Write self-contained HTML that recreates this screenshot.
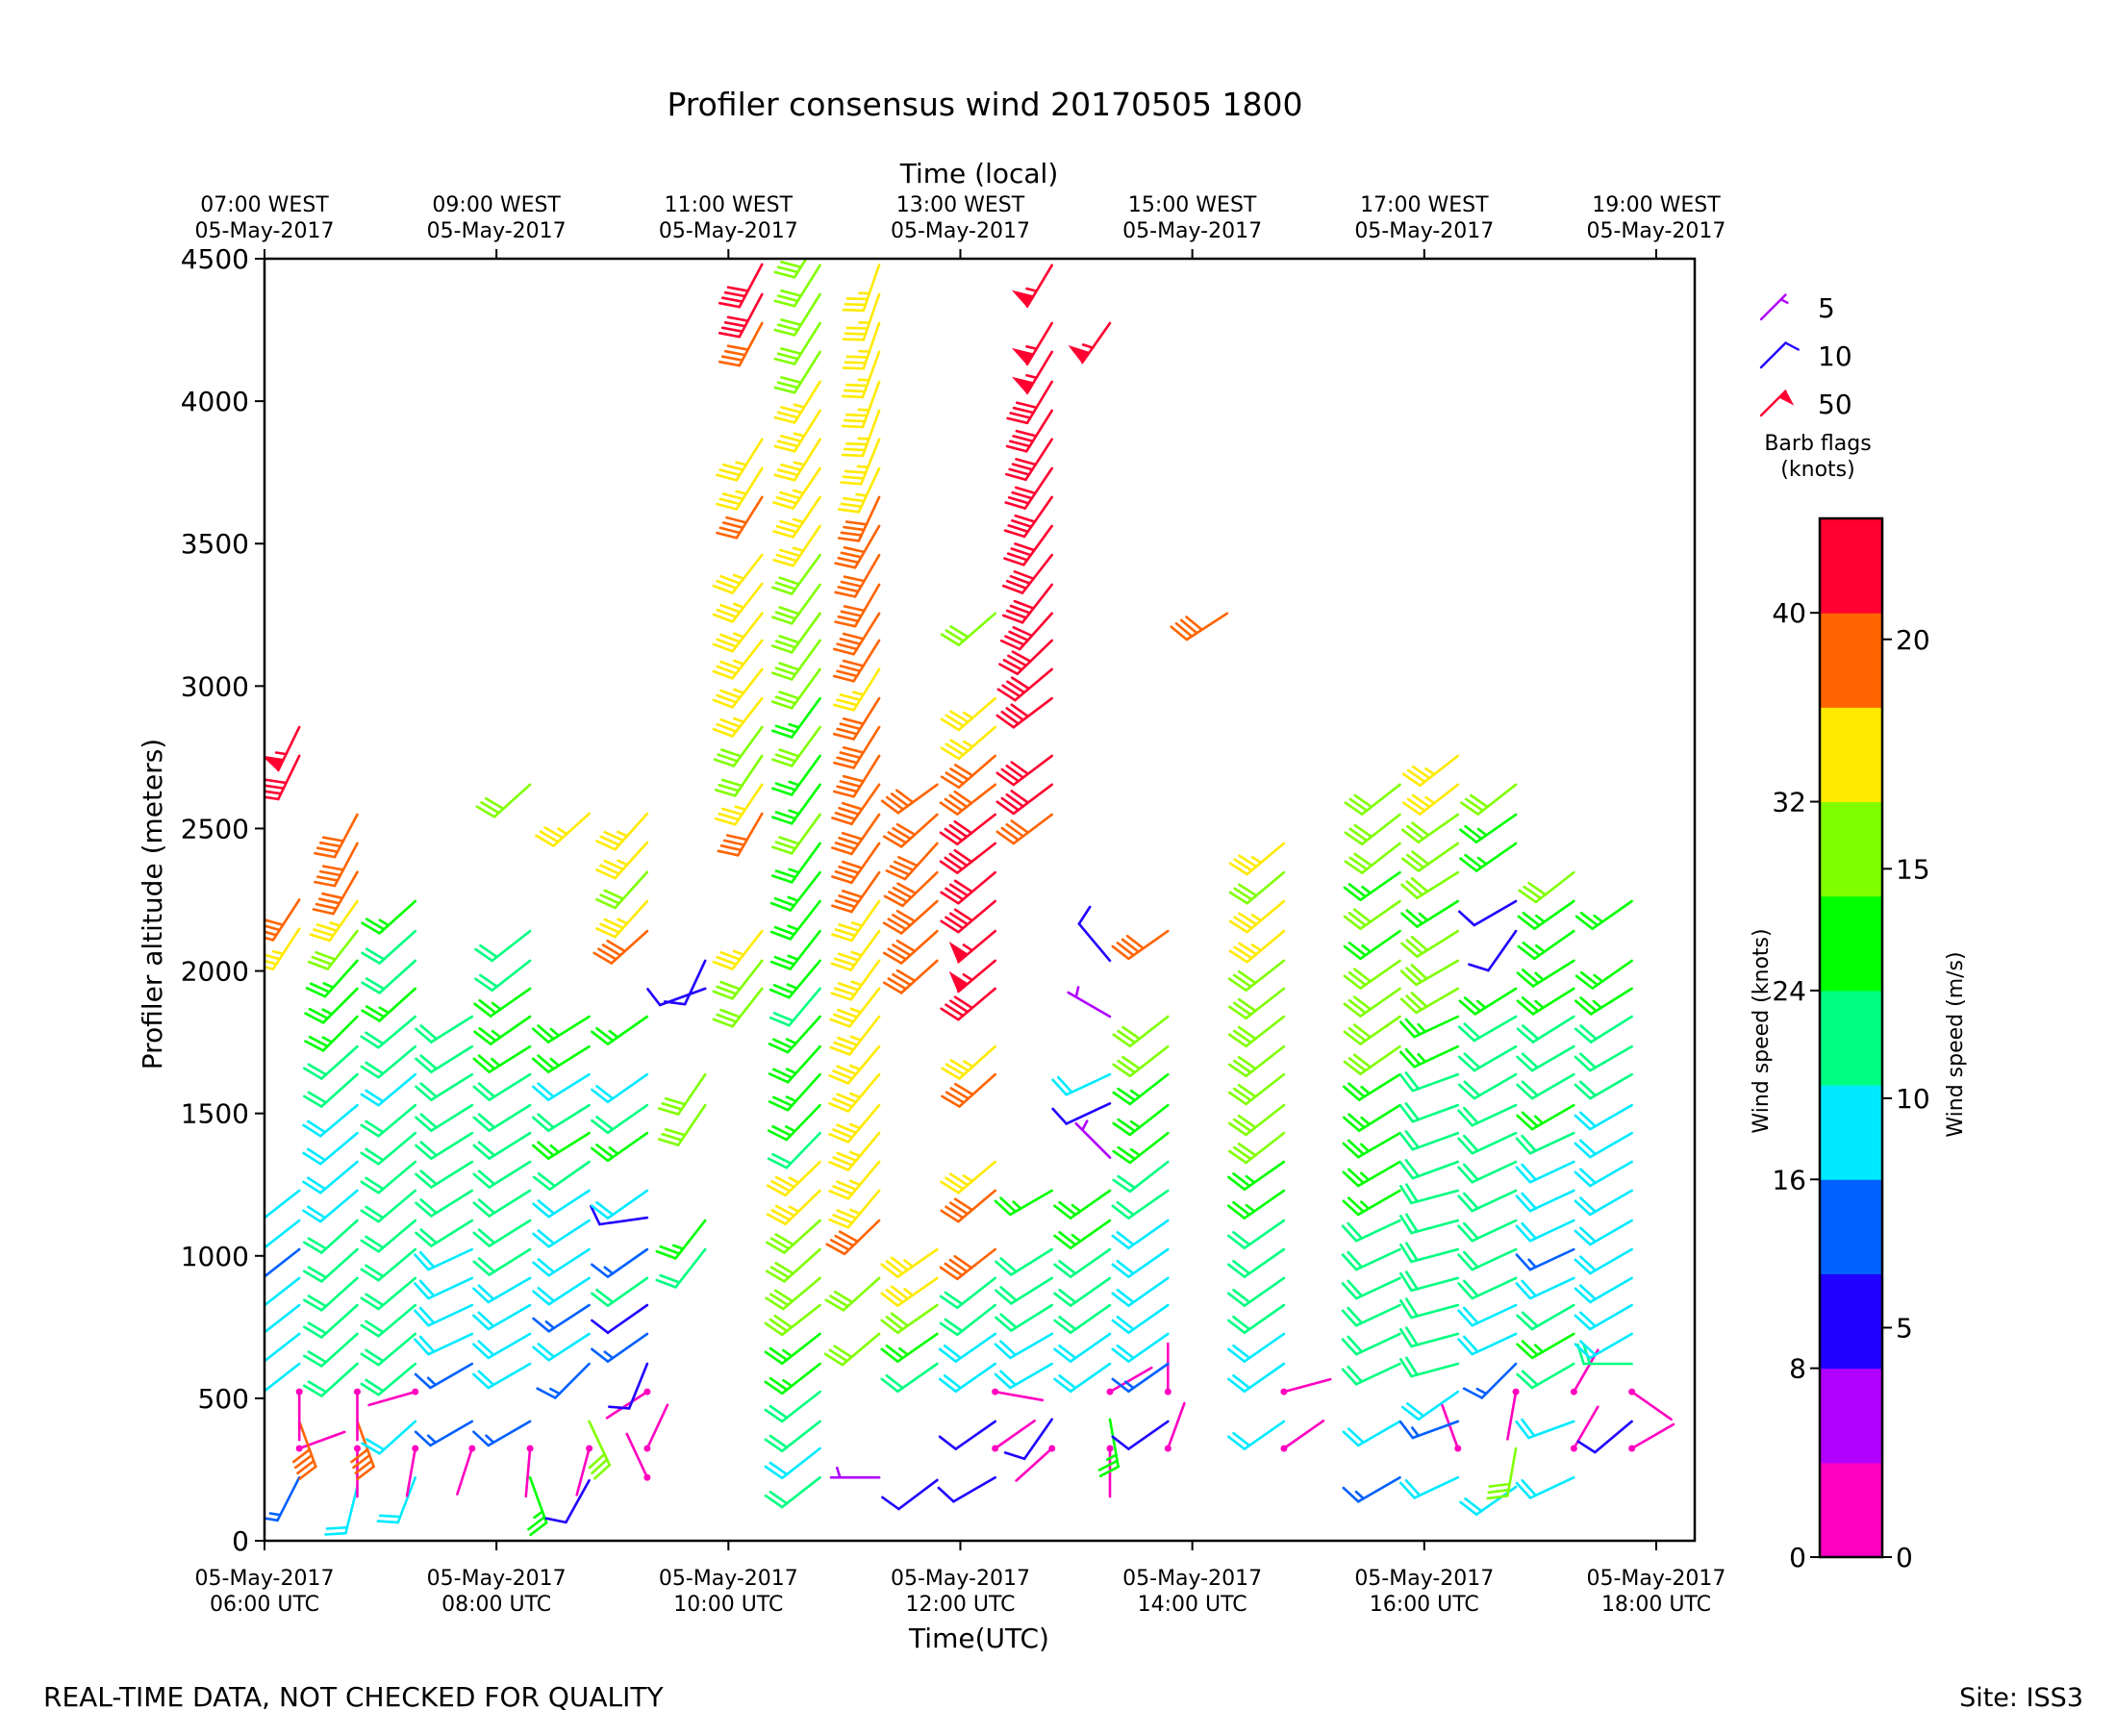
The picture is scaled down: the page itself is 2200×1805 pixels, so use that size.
<!DOCTYPE html>
<html><head><meta charset="utf-8"><style>
body{margin:0;background:#fff}
svg text{font-family:"DejaVu Sans","Liberation Sans",sans-serif;fill:#000}
</style></head><body>
<svg id="chart" width="2200" height="1800" viewBox="0 0 2200 1800" xmlns="http://www.w3.org/2000/svg">
<rect width="2200" height="1800" fill="#fff"/>
<defs><clipPath id="plotclip"><rect x="275" y="269" width="1487" height="1333"/></clipPath></defs>
<text x="1024" y="120" font-size="33" text-anchor="middle">Profiler consensus wind 20170505 1800</text>
<text x="1018" y="190" font-size="28" text-anchor="middle">Time (local)</text>
<text x="1018" y="1713" font-size="28" text-anchor="middle">Time(UTC)</text>
<text transform="translate(168,940) rotate(-90)" font-size="28" text-anchor="middle">Profiler altitude (meters)</text>
<text x="45" y="1774" font-size="28">REAL-TIME DATA, NOT CHECKED FOR QUALITY</text>
<text x="2166" y="1774" font-size="27" text-anchor="end">Site: ISS3</text>
<g id="axes"></g>
<g id="barbs" clip-path="url(#plotclip)"></g>
<rect x="275" y="269" width="1487" height="1333" fill="none" stroke="#000" stroke-width="2.5"/>
<g id="legend"></g>
<g id="cbar"></g>
<text transform="translate(1838,1072) rotate(-90)" font-size="22" text-anchor="middle">Wind speed (knots)</text>
<text transform="translate(2040,1086) rotate(-90)" font-size="22" text-anchor="middle">Wind speed (m/s)</text>
</svg>
<script>
// ---- data ----
const binColors = ["#ff00c0","#b000ff","#2000ff","#0060ff","#00eaff","#00ff80","#00ff00","#80ff00","#ffea00","#ff6400","#ff0030"];
const knotTicks = [0,8,16,24,32,40];
const msTicks = [0,5,10,15,20];
const yTicks = [0,500,1000,1500,2000,2500,3000,3500,4000,4500];
const xTickHours = [6,8,10,12,14,16,18];
const xTickUTC = ["06:00 UTC","08:00 UTC","10:00 UTC","12:00 UTC","14:00 UTC","16:00 UTC","18:00 UTC"];
const xTickLocal = ["07:00 WEST","09:00 WEST","11:00 WEST","13:00 WEST","15:00 WEST","17:00 WEST","19:00 WEST"];
const legendSpeeds = [5,10,50];
const times = [6.30,6.80,7.30,7.79,8.29,8.80,9.30,9.80,10.29,10.79,11.30,11.80,12.30,12.79,13.29,13.79,14.30,14.79,15.79,16.29,16.79,17.29,17.79];
const heights = [
[222,324,419,523,621,726,827,922,1023,1124,1229,2148,2250,2755,2856],
[190,324,419,523,621,726,827,922,1023,1124,1229,1330,1431,1529,1637,1735,1840,1938,2036,2140,2245,2347,2448,2549],
[222,324,419,523,621,726,827,922,1023,1124,1229,1330,1431,1529,1637,1735,1840,1938,2036,2140,2245],
[324,419,621,726,827,922,1023,1124,1229,1330,1431,1529,1637,1735,1840],
[222,324,419,621,726,827,922,1023,1124,1229,1330,1431,1529,1637,1735,1840,1938,2036,2140,2654],
[212,324,419,621,726,827,922,1023,1124,1229,1330,1431,1529,1637,1735,1840,2552],
[222,324,523,621,726,827,922,1023,1134,1229,1431,1529,1637,1840,2140,2245,2347,2451,2552],
[1023,1124,1529,1637,1938,2036],
[1938,2036,2140,2552,2654,2755,2856,2957,3059,3160,3255,3359,3460,3663,3764,3866,4274,4375,4480],
[222,324,419,523,621,726,827,922,1023,1124,1229,1330,1431,1529,1637,1735,1840,1938,2036,2140,2245,2346,2448,2549,2654,2755,2856,2957,3059,3160,3255,3356,3460,3562,3663,3764,3866,3967,4068,4173,4274,4375,4477,4578],
[222,726,922,1124,1229,1330,1431,1529,1637,1735,1840,1938,2036,2140,2245,2346,2448,2549,2654,2755,2856,2957,3059,3160,3255,3356,3460,3562,3663,3764,3866,3967,4068,4173,4274,4375,4478],
[213,621,726,827,922,1023,2036,2140,2245,2346,2448,2549,2654],
[222,324,419,523,621,726,827,922,1023,1229,1330,1637,1735,1938,2036,2140,2245,2346,2448,2549,2654,2755,2856,2957,3255],
[324,426,621,726,827,922,1023,1229,2549,2654,2755,2957,3059,3160,3255,3356,3460,3562,3663,3764,3866,3967,4068,4173,4274,4477],
[324,426,523,621,726,827,922,1023,1124,1229,1345,1535,1637,1840,2036,4274],
[324,419,523,621,726,827,922,1023,1124,1229,1330,1431,1529,1637,1735,1840,2140],
[3255],
[324,419,523,621,726,827,922,1023,1124,1229,1330,1431,1529,1637,1735,1840,1938,2036,2140,2245,2346,2448],
[222,419,621,726,827,922,1023,1124,1229,1330,1431,1529,1637,1735,1840,1938,2036,2140,2245,2346,2448,2549,2654],
[222,324,419,523,621,726,827,922,1023,1124,1229,1330,1431,1529,1637,1735,1840,1938,2036,2140,2245,2346,2448,2549,2654,2755],
[189,324,523,621,726,827,922,1023,1124,1229,1330,1431,1529,1637,1735,1840,1938,2140,2245,2448,2549,2654],
[222,324,419,523,621,726,827,922,1023,1124,1229,1330,1431,1529,1637,1735,1840,1938,2036,2140,2245,2346],
[324,419,523,621,726,827,922,1023,1124,1229,1330,1431,1529,1637,1735,1840,1938,2036,2245]
];
const speeds = [
[14,2,38,2,18,18,18,18,14,18,18,34,38,42,55],
[18,2,38,2,22,22,22,22,22,22,18,18,18,18,22,22,26,26,26,30,34,38,38,38],
[18,2,18,2,22,22,22,22,22,22,22,22,22,22,18,22,22,26,22,22,26],
[2,14,14,18,18,18,18,22,22,22,22,22,22,22,22],
[26,2,14,18,18,18,18,22,22,22,22,22,22,22,26,26,26,22,22,30],
[10,2,30,14,18,14,18,18,18,18,22,26,22,18,26,26,34],
[2,2,2,10,14,10,22,14,10,18,26,22,18,26,38,34,30,34,34],
[22,26,30,30,10,10],
[30,30,34,38,34,30,30,34,34,34,34,34,34,38,34,34,38,42,42],
[22,18,22,22,26,26,30,30,30,30,34,34,22,26,26,26,26,22,26,26,26,26,26,30,26,26,30,26,30,30,30,30,30,34,34,34,34,34,34,30,30,30,30,30],
[6,30,30,38,34,34,34,34,34,34,34,34,34,34,34,38,38,38,38,38,38,38,34,38,38,38,38,38,38,34,34,34,34,34,34,34,34],
[10,22,26,30,34,34,38,38,38,38,38,38,38],
[10,2,10,2,18,18,22,22,38,38,34,38,34,42,55,55,42,42,42,42,38,38,34,34,30],
[2,10,18,18,22,22,22,26,38,42,42,42,42,42,42,42,42,42,42,42,42,42,42,55,55,55],
[2,26,2,18,18,22,22,22,26,26,6,10,18,6,10,55],
[2,10,2,14,18,18,18,18,18,22,22,26,26,26,30,30,38],
[38],
[2,18,2,18,18,22,22,22,22,26,26,30,30,30,30,30,30,30,34,34,30,34],
[14,18,22,22,22,22,22,22,26,26,26,26,26,30,30,30,30,26,30,26,30,30,30],
[18,2,14,18,22,22,22,22,22,22,22,22,22,22,22,26,26,30,30,30,26,30,30,30,34,34],
[18,30,2,14,18,18,22,22,22,22,22,22,22,22,22,22,26,10,10,26,26,30],
[18,2,18,2,22,26,22,18,14,18,18,18,22,26,22,22,22,26,26,26,26,30],
[2,10,2,22,18,18,18,18,18,18,18,18,18,22,22,22,26,26,26]
];
const dirs = [
[207,70,160,180,232,232,232,232,232,232,232,213,213,206,206],
[194,180,160,180,228,228,228,228,228,228,230,230,230,230,228,228,225,225,222,218,215,210,208,208],
[201,190,228,254,230,230,230,230,230,230,230,230,230,230,230,230,230,228,228,228,228],
[198,240,240,245,245,245,245,238,238,238,238,238,238,238,238],
[160,185,240,240,240,240,240,238,238,238,238,238,238,238,238,235,235,232,232,228],
[209,195,155,225,237,237,237,237,237,237,235,238,238,238,238,238,228],
[335,25,237,202,235,235,235,235,262,235,235,235,235,235,228,222,222,222,222],
[218,218,214,214,250,205],
[218,218,218,210,214,214,216,218,218,218,218,218,218,212,212,212,208,208,208],
[232,232,232,232,232,232,232,230,228,228,226,226,224,224,222,222,222,220,220,218,218,218,216,216,216,216,216,216,216,216,216,216,216,214,214,214,212,212,212,212,212,212,212,212],
[270,230,228,226,220,220,220,220,220,220,218,218,216,216,215,215,215,215,215,212,212,212,212,212,212,210,210,210,205,205,202,200,200,200,199,199,199],
[233,235,235,235,235,235,228,228,228,226,222,228,234],
[240,55,235,100,235,235,232,232,232,230,230,228,228,230,230,230,230,230,232,232,232,229,229,229,229],
[228,215,240,240,238,238,238,240,233,233,233,233,230,226,222,218,218,216,215,214,213,212,211,211,211,211],
[180,170,60,235,235,235,235,235,235,235,315,245,245,300,320,215],
[20,235,0,235,235,235,235,235,235,235,232,232,232,232,232,232,235],
[237],
[55,235,75,235,235,235,235,235,235,235,235,232,232,232,232,232,232,232,230,230,230,230],
[240,240,245,245,245,245,245,245,240,240,240,238,238,235,235,235,235,235,235,235,232,232,232],
[245,340,250,235,255,255,255,255,255,255,255,250,250,250,250,245,245,240,240,238,238,238,235,235,232,232],
[235,190,190,225,245,245,245,245,245,245,245,245,245,240,240,240,238,215,240,235,235,232],
[245,30,250,30,240,240,240,245,245,245,245,245,245,240,240,240,238,238,238,235,235,232],
[60,230,125,270,240,240,240,240,240,240,240,240,240,240,240,238,238,235,235]
];

// ---- scales ----
const X0=275, X1=1762, Y0=1602, Y1=269;
function xScale(t){ return X0 + (t-6)*120.58; }
function yScale(h){ return Y0 - h*0.29622; }
const CB_X=1892, CB_W=65, CB_B=1619, CB_T=539, CB_MAX=44;
function cbScale(k){ return CB_B - k/CB_MAX*(CB_B-CB_T); }
function colorFor(s){ return binColors[Math.min(binColors.length-1, Math.floor(s/4))]; }

const NS="http://www.w3.org/2000/svg";
function mk(tag, attrs, parent){ const e=document.createElementNS(NS,tag); for(const k in attrs) e.setAttribute(k,attrs[k]); parent.appendChild(e); return e; }

function drawBarb(parent, px, py, bearing, spd, L, sw){
  const r=Math.round(spd/5)*5, col=colorFor(spd);
  const th=bearing*Math.PI/180;
  const ey=[Math.sin(th),-Math.cos(th)], ex=[-ey[1],ey[0]];
  const P=(a,b)=>[px+a*ex[0]+b*ey[0], py+a*ex[1]+b*ey[1]];
  const g=document.createElementNS(NS,'g'); parent.appendChild(g);
  
  
  const sp=0.125*L, fh=0.4*L, fw=0.25*L;
  const line=(p,q)=>mk('line',{x1:p[0].toFixed(1),y1:p[1].toFixed(1),x2:q[0].toFixed(1),y2:q[1].toFixed(1),stroke:col,'stroke-width':sw,'stroke-linecap':'round'},g);
  line(P(0,0),P(0,L));
  if(r===0){ mk('circle',{cx:px,cy:py,r:3.5,fill:col},g); return; }
  let nflag=Math.floor(r/50), rem=r-nflag*50, nb=Math.floor(rem/10), half=(rem%10)>=5;
  let off=L;
  for(let i=0;i<nflag;i++){
    if(off!==L) off+=sp/2;
    const a=P(0,off), b=P(fh,off-fw/2), c=P(0,off-fw);
    mk('polygon',{points:`${a[0]},${a[1]} ${b[0]},${b[1]} ${c[0]},${c[1]}`,fill:col,stroke:col,'stroke-width':1.5},g);
    off-=fw+sp;
  }
  for(let i=0;i<nb;i++){ line(P(0,off),P(fh,off+fw/2)); off-=sp; }
  if(half){ if(off===L) off-=1.5*sp; line(P(0,off),P(fh/2,off+fw/4)); }
}

// ---- axes ----
const ax=document.getElementById('axes');
yTicks.forEach(v=>{
  const y=yScale(v);
  const t=mk('line',{x1:X0-10,y1:y,x2:X0,y2:y,stroke:'#000','stroke-width':2},ax);
  
  
  const l=mk('text',{x:X0-16,y:y+10,'font-size':28,'text-anchor':'end'},ax); l.textContent=v;
  
  
});
xTickHours.forEach((h,i)=>{
  const x=xScale(h);
  const t=mk('line',{x1:x,y1:Y0,x2:x,y2:Y0+10,stroke:'#000','stroke-width':2},ax);
  
  
  const t2=mk('line',{x1:x,y1:Y1-10,x2:x,y2:Y1,stroke:'#000','stroke-width':2},ax);
  
  
  const a=mk('text',{x:x,y:1648,'font-size':22,'text-anchor':'middle'},ax); a.textContent='05-May-2017';
  
  
  const b=mk('text',{x:x,y:1675,'font-size':22,'text-anchor':'middle'},ax); b.textContent=xTickUTC[i];
  
  
  const c=mk('text',{x:x,y:220,'font-size':22,'text-anchor':'middle'},ax); c.textContent=xTickLocal[i];
  
  
  const d=mk('text',{x:x,y:247,'font-size':22,'text-anchor':'middle'},ax); d.textContent='05-May-2017';
  
  
});

// ---- barbs ----
const bg=document.getElementById('barbs');
times.forEach((t,ci)=>{
  const col=document.createElementNS(NS,'g'); bg.appendChild(col);
  
  
  heights[ci].forEach((h,j)=>{ drawBarb(col, xScale(t), yScale(h), dirs[ci][j], speeds[ci][j], 50, 2.6); });
});

// ---- legend ----
const lg=document.getElementById('legend');
const legY=[332,382,432], legTY=[330,380,430];
legendSpeeds.forEach((s,i)=>{
  drawBarb(lg, 1831, legY[i], 45, s, 36, 2.4);
  const tx=mk('text',{x:1890,y:legTY[i],'font-size':28},lg); tx.textContent=s;
  
  
});
const lt1=mk('text',{x:1890,y:468,'font-size':22,'text-anchor':'middle'},lg); lt1.textContent='Barb flags';


const lt2=mk('text',{x:1890,y:495,'font-size':22,'text-anchor':'middle'},lg); lt2.textContent='(knots)';



// ---- colorbar ----
const cb=document.getElementById('cbar');
binColors.forEach((c,i)=>{
  const y0=cbScale((i+1)*4), y1=cbScale(i*4);
  const r=mk('rect',{x:CB_X,y:y0,width:CB_W,height:(y1-y0+0.5),fill:c},cb);
  
  
});
mk('rect',{x:CB_X,y:CB_T,width:CB_W,height:CB_B-CB_T,fill:'none',stroke:'#000','stroke-width':2.5},cb);
knotTicks.forEach(k=>{
  const y=cbScale(k);
  mk('line',{x1:CB_X-10,y1:y,x2:CB_X,y2:y,stroke:'#000','stroke-width':2},cb);
  const l=mk('text',{x:CB_X-14,y:y+10,'font-size':28,'text-anchor':'end'},cb); l.textContent=k;
  
  
});
msTicks.forEach(m=>{
  const y=cbScale(m*1.94384);
  mk('line',{x1:CB_X+CB_W,y1:y,x2:CB_X+CB_W+10,y2:y,stroke:'#000','stroke-width':2},cb);
  const l=mk('text',{x:CB_X+CB_W+14,y:y+10,'font-size':28},cb); l.textContent=m;
  
  
});
</script>
</body></html>
